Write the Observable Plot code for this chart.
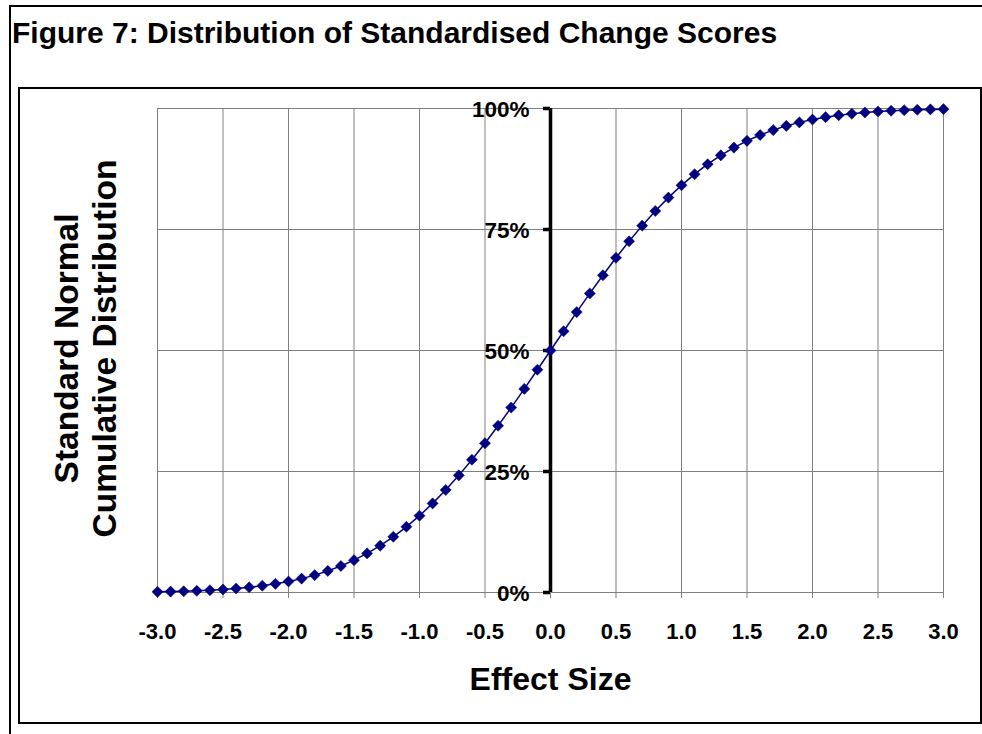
<!DOCTYPE html>
<html>
<head>
<meta charset="utf-8">
<script src="https://cdn.jsdelivr.net/npm/d3@7"></script>
<script src="https://cdn.jsdelivr.net/npm/@observablehq/plot@0.6"></script>
<style>
  html, body { margin: 0; padding: 0; background: #fff; width: 982px; height: 734px; overflow: hidden; }
  body { position: relative; font-family: Arial, "Liberation Sans", sans-serif; }
  #outer { position: absolute; left: 9px; top: 5px; width: 990px; height: 760px; border-left: 2px solid #000; border-top: 2px solid #000; }
  #title { position: absolute; left: 12px; top: 15px; font-size: 30px; font-weight: bold; color: #000; white-space: nowrap; line-height: 36px; }
  #box { position: absolute; left: 18px; top: 87px; width: 960px; height: 633px; border: 2px solid #000; }
  #box svg { position: absolute; left: 0; top: 0; overflow: visible; }
</style>
</head>
<body>
<div id="outer"></div>
<div id="title">Figure 7: Distribution of Standardised Change Scores</div>
<div id="box"></div>
<script>
// Effect size (x) and cumulative distribution (%)
const effectSize = [-3.0,-2.9,-2.8,-2.7,-2.6,-2.5,-2.4,-2.3,-2.2,-2.1,-2.0,-1.9,-1.8,-1.7,-1.6,-1.5,-1.4,-1.3,-1.2,-1.1,-1.0,-0.9,-0.8,-0.7,-0.6,-0.5,-0.4,-0.3,-0.2,-0.1,0.0,0.1,0.2,0.3,0.4,0.5,0.6,0.7,0.8,0.9,1.0,1.1,1.2,1.3,1.4,1.5,1.6,1.7,1.8,1.9,2.0,2.1,2.2,2.3,2.4,2.5,2.6,2.7,2.8,2.9,3.0];
const cumulativePct = [0.13,0.19,0.26,0.35,0.47,0.62,0.82,1.07,1.39,1.79,2.28,2.87,3.59,4.46,5.48,6.68,8.08,9.68,11.51,13.57,15.87,18.41,21.19,24.20,27.43,30.85,34.46,38.21,42.07,46.02,50.00,53.98,57.93,61.79,65.54,69.15,72.57,75.80,78.81,81.59,84.13,86.43,88.49,90.32,91.92,93.32,94.52,95.54,96.41,97.13,97.72,98.21,98.61,98.93,99.18,99.38,99.53,99.65,99.74,99.81,99.87];
const xTicks = [-3.0,-2.5,-2.0,-1.5,-1.0,-0.5,0.0,0.5,1.0,1.5,2.0,2.5,3.0];
const yTicks = [0,25,50,75,100];
const xTitle = "Effect Size";
const yTitle = "Standard Normal\nCumulative Distribution";

const data = effectSize.map((x, i) => ({x, y: cumulativePct[i]}));
const navy = "#000080";
const grid = "#808080";
const font = 'Arial, "Liberation Sans", sans-serif';

const chart = Plot.plot({
  width: 960,
  height: 633,
  marginLeft: 137,
  marginRight: 37,
  marginTop: 19,
  marginBottom: 130,
  style: {fontFamily: font, background: "transparent", overflow: "visible"},
  x: {type: "linear", domain: [-3, 3], axis: null},
  y: {type: "linear", domain: [0, 100], axis: null},
  marks: [
    Plot.gridX(xTicks, {stroke: grid, strokeOpacity: 1, strokeWidth: 1}),
    Plot.gridY(yTicks, {stroke: grid, strokeOpacity: 1, strokeWidth: 1}),
    Plot.axisX(xTicks, {tickSize: 6, stroke: grid, strokeOpacity: 1, tickPadding: 25, fontSize: 22, fontWeight: "bold", fill: "#000", label: null, tickFormat: d => d.toFixed(1)}),
    Plot.text([xTitle], {frameAnchor: "bottom", dy: 97, fontSize: 32, fontWeight: "bold", fill: "#000", textAnchor: "middle"}),
    Plot.text([yTitle], {frameAnchor: "left", dx: -73, dy: -2, rotate: -90, textAnchor: "middle", fontSize: 33.5, fontWeight: "bold", fill: "#000", lineHeight: 1.14}),
    Plot.ruleX([0], {y1: 0, y2: 100, stroke: "#000", strokeWidth: 3.5}),
    Plot.ruleY(yTicks, {y: d => d, x1: 0, x2: 0, insetLeft: -7, stroke: "#000", strokeWidth: 3.5}),
    Plot.text(yTicks, {x: 0, y: d => d, text: d => d + "%", textAnchor: "end", dx: -21, dy: 1, fontSize: 22.5, fontWeight: "bold", fill: "#000"}),
    Plot.line(data, {x: "x", y: "y", stroke: navy, strokeWidth: 1.5}),
    Plot.dot(data, {x: "x", y: "y", symbol: "diamond2", r: 5, fill: navy, stroke: navy, strokeWidth: 0.5})
  ]
});
document.getElementById("box").appendChild(chart);
</script>
</body>
</html>
